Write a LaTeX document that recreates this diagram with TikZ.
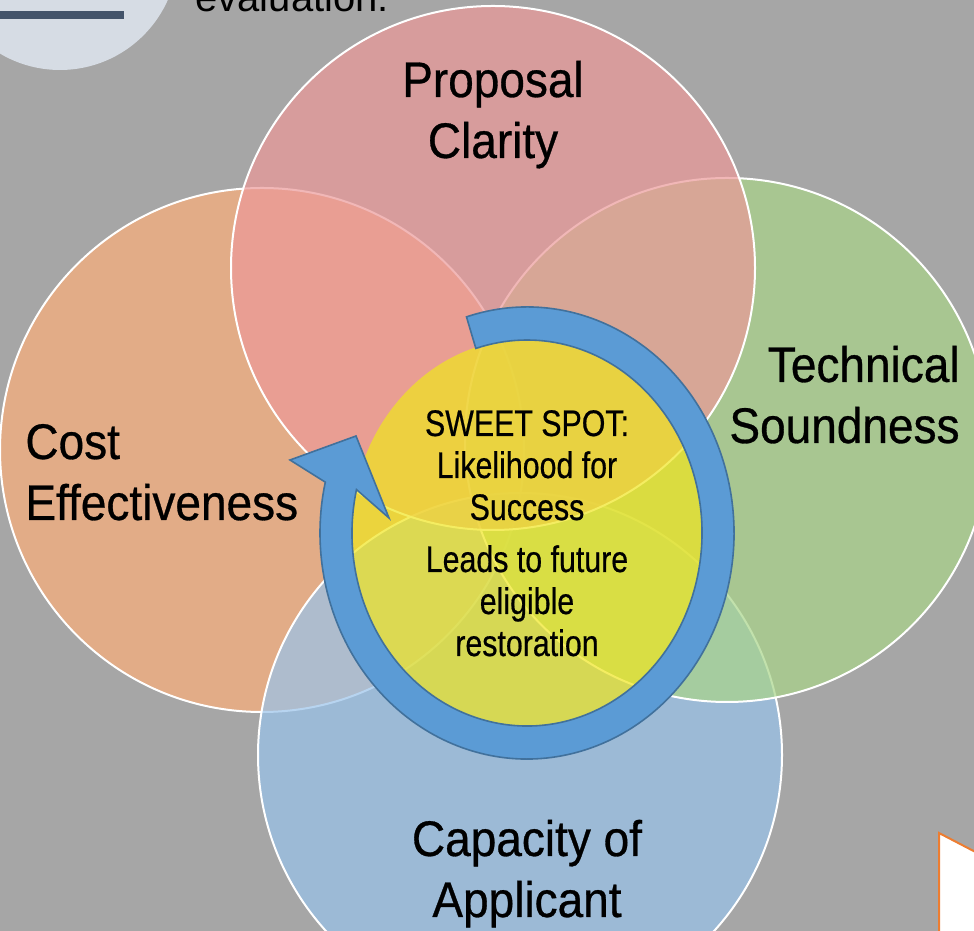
\documentclass[tikz,border=0pt]{standalone}
\usepackage{fontspec}
\setmainfont{Liberation Sans}
\newfontfamily\labelfont[FakeStretch=0.92, FakeBold=0.6]{Liberation Sans}
\newfontfamily\spotfont[FakeStretch=0.82, FakeBold=0.5]{Liberation Sans}
\usetikzlibrary{positioning, calc}
\definecolor{backgray}{RGB}{166,166,166}
\definecolor{badge}{RGB}{214,220,228}
\definecolor{badgebar}{RGB}{68,84,106}
\definecolor{costfill}{RGB}{252,175,123}
\definecolor{capfill}{RGB}{153,195,235}
\definecolor{techfill}{RGB}{169,213,137}
\definecolor{clarfill}{RGB}{236,153,153}
\definecolor{spotfill}{RGB}{240,230,30}
\definecolor{ringblue}{RGB}{91,155,213}
\definecolor{ringedge}{RGB}{65,113,156}
\definecolor{calloutedge}{RGB}{237,125,49}
\tikzstyle{RingArrow} = [
%Circular arrow round the sweet spot:
fill=ringblue, draw=ringedge, line width=0.8pt, line join=miter
]

\begin{document}
\begin{tikzpicture}[x=0.5pt, y=0.5pt,
		venn/.style = {draw=white, line width=1pt, fill opacity=0.7},
		bigtext/.style = {font=\labelfont\fontsize{25}{30.5}\selectfont, align=center, inner sep=0pt},
		spottext/.style = {font=\spotfont\fontsize{18.5}{21}\selectfont, align=center, inner sep=0pt},
	]
		\useasboundingbox (0,0) rectangle (974,931);
		\clip (0,0) rectangle (974,931);
		\fill[backgray] (0,0) rectangle (974,931);

		% corner badge
		\fill[badge] (60,979) circle[radius=118];
		\fill[badgebar] (0,912) rectangle (124,920);
		\node[anchor=base west, inner sep=0pt, font=\fontsize{20}{24}\selectfont](eval) at (195,919){evaluation:};

		% the four circles
		\draw[venn, fill=costfill] (262,481) circle[radius=262];
		\draw[venn, fill=capfill] (520,176) circle[radius=262];
		\draw[venn, fill=techfill] (727,491) circle[radius=262];
		\draw[venn, fill=clarfill] (493,663) circle[radius=262];

		% sweet spot
		\coordinate(C) at (527,398);
		\fill[spotfill, fill opacity=0.7] (C) ellipse[x radius=176, y radius=194];

		\draw[RingArrow] (C) ++(107:207 and 226)
			arc[start angle=107, end angle=-193, x radius=207, y radius=226]
			-- (290,471) -- (356,495) -- (389,413)
			-- ($(C)+(-193:175 and 193)$)
			arc[start angle=-193, end angle=107, x radius=175, y radius=193] -- cycle;

		% corner of the callout
		\draw[calloutedge, fill=white, line width=1pt] (939,-5) -- (939,98) -- (1010,61) -- (1010,-5) -- cycle;

		% base anchors sit on the last line
		\node[bigtext, anchor=base](clarity) at (493,773){Proposal\\Clarity};
		\node[bigtext, anchor=base east, align=right](tech) at (960,488){Technical\\Soundness};
		\node[bigtext, anchor=base west, align=left](cost) at (25,411){Cost\\Effectiveness};
		\node[bigtext, anchor=base](capacity) at (527,14){Capacity of\\Applicant};
		\node[spottext, anchor=base](sweet) at (527,275){SWEET SPOT:\\Likelihood for\\Success\\[5pt]Leads to future\\eligible\\restoration};
	\end{tikzpicture}
\end{document}
